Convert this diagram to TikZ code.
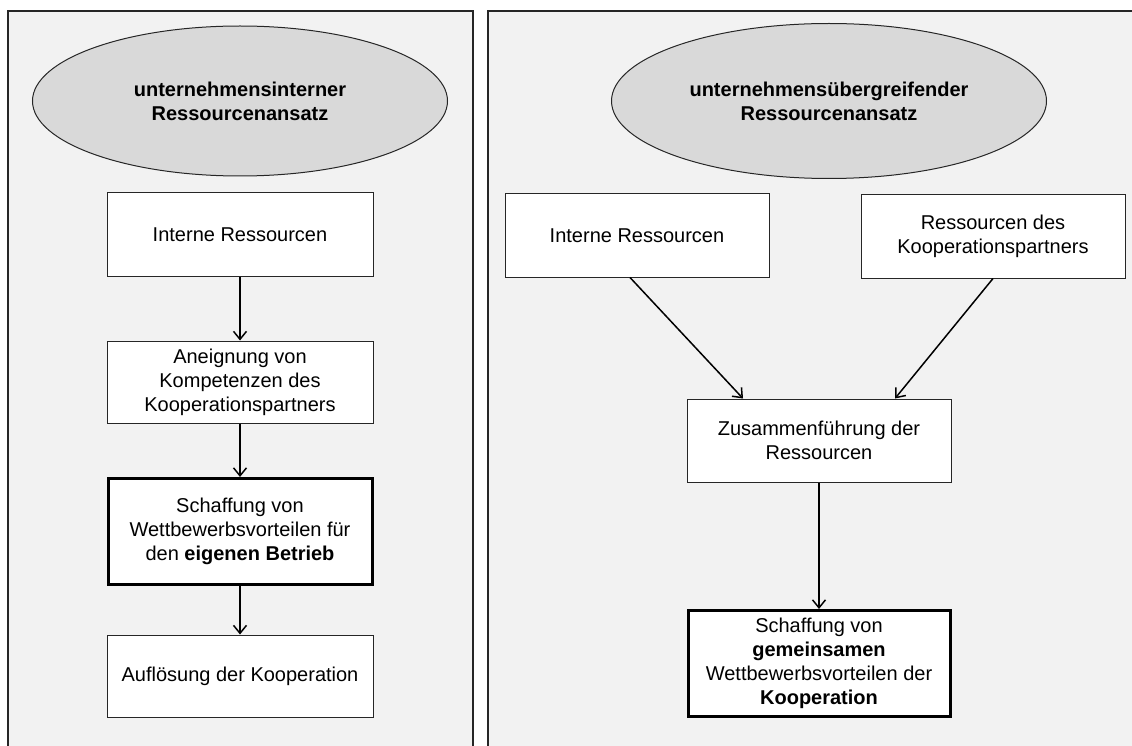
\documentclass[tikz,border=0pt]{standalone}
\usepackage{fontspec}
\setmainfont{Liberation Sans}
\usetikzlibrary{shapes.geometric,arrows.meta}
\definecolor{panelbg}{HTML}{F2F2F2}
\definecolor{ellfill}{HTML}{D9D9D9}
\definecolor{boxline}{HTML}{262626}
\begin{document}
\begin{tikzpicture}[x=1pt,y=-1pt,
 panel/.style={draw=black!85, line width=1.3pt, fill=panelbg},
 head/.style={ellipse, draw=black!85, line width=1pt, fill=ellfill, font=\fontsize{20}{24}\selectfont\bfseries, align=center, inner sep=0pt},
 stepbox/.style={rectangle, draw=boxline, line width=1pt, fill=white, font=\fontsize{20}{24}\selectfont, align=center, minimum width=266pt, minimum height=83pt, inner sep=0pt},
 keybox/.style={stepbox, draw=black, line width=3pt},
 conn/.style={line width=1.5pt, -{Straight Barb[length=8pt,width=13pt,line width=1.5pt]}}
]
\useasboundingbox (0,0) rectangle (1132,746);
\clip (0,0) rectangle (1132,746);
\fill[white] (0,0) rectangle (1132,746);
\draw[panel] (8,11) rectangle (473,760);
\draw[panel] (488,11) rectangle (1145,760);

\node[head, minimum width=415pt, minimum height=150pt] (h1) at (240,101) {unternehmensinterner\\Ressourcenansatz};
\node[head, minimum width=435pt, minimum height=155pt] (h2) at (829,101) {unternehmensübergreifender\\Ressourcenansatz};

\node[stepbox] (l1) at (240,234.5) {Interne Ressourcen};
\node[stepbox, minimum height=82pt] (l2) at (240,382) {Aneignung von\\Kompetenzen des\\Kooperationspartners};
\node[keybox, minimum height=106pt, minimum width=264pt] (l3) at (240,531.5) {Schaffung von\\Wettbewerbsvorteilen für\\den \textbf{eigenen Betrieb}};
\node[stepbox, minimum height=82pt] (l4) at (240,676) {Auflösung der Kooperation};

\draw[conn] (l1.south) -- (l2.north);
\draw[conn] (l2.south) -- (l3.north);
\draw[conn] (l3.south) -- (l4.north);

\node[stepbox, minimum width=264pt] (r1) at (637,235.5) {Interne Ressourcen};
\node[stepbox, minimum width=264pt] (r2) at (993,236.5) {Ressourcen des\\Kooperationspartners};
\node[stepbox, minimum width=264pt] (r3) at (819,440.5) {Zusammenführung der\\Ressourcen};
\node[keybox, minimum width=262pt, minimum height=106pt] (r4) at (819,663.5) {Schaffung von\\\textbf{gemeinsamen}\\Wettbewerbsvorteilen der\\\textbf{Kooperation}};

\draw[conn] ([xshift=-7pt]r1.south) -- ([xshift=-76pt]r3.north);
\draw[conn] (r2.south) -- ([xshift=76pt]r3.north);
\draw[conn] (r3.south) -- (r4.north);
\end{tikzpicture}
\end{document}
